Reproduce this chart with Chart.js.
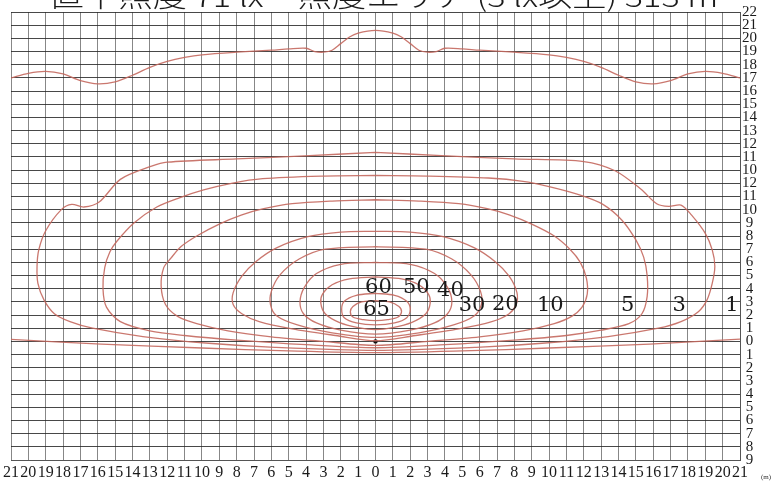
<!DOCTYPE html>
<html><head><meta charset="utf-8">
<script src="https://cdn.jsdelivr.net/npm/chart.js@4"></script>
<style>html,body{margin:0;padding:0;background:#fff;overflow:hidden}#wrap{width:779px;height:482px;position:relative}</style>
</head><body><div id="wrap"><canvas id="c"></canvas></div>
<script>
const titleText = '直下照度 71 lx　照度エリア (3 lx以上) 313 m²';
const unitText = '(m)';
const xTickLabels = ['21','20','19','18','17','16','15','14','13','12','11','10','9','8','7','6','5','4','3','2','1','0','1','2','3','4','5','6','7','8','9','10','11','12','13','14','15','16','17','18','19','20','21'];
const yTickLabels = ['22','21','20','19','18','17','16','15','14','13','12','11','10','12','11','10','9','8','7','6','5','4','3','2','1','0','1','2','3','4','5','6','7','8','9'];

// contour labels
const labelTexts = ['60','50','40','65','30','20','10','5','3','1'];
const labelXs = [0.17, 2.35, 4.32, 0.06, 5.56, 7.48, 10.07, 14.53, 17.5, 20.54];
const labelYs = [4.06, 4.06, 3.87, 2.4, 2.71, 2.81, 2.75, 2.75, 2.75, 2.75];

// isolux contours (x, y in m)
const c65x = [0,0.8,1.35,1.5,1.3,0.7,0,-0.7,-1.3,-1.45,-1.3,-0.8,0];
const c65y = [3.1,3.0,2.65,2.25,1.85,1.65,1.58,1.65,1.85,2.25,2.65,3.0,3.1];
const c60x = [0,1.1,1.8,2.0,1.8,1.1,0,-1.1,-1.8,-1.95,-1.8,-1.1,0];
const c60y = [3.65,3.5,3.05,2.45,1.8,1.4,1.25,1.4,1.8,2.45,3.05,3.5,3.65];
const c50x = [0,1.5,2.5,3.05,3.15,2.9,2.1,1.0,0,-1.0,-2.1,-2.9,-3.15,-3.05,-2.5,-1.5,0];
const c50y = [4.9,4.75,4.3,3.6,2.9,2.1,1.45,1.05,0.9,1.05,1.45,2.1,2.9,3.6,4.3,4.75,4.9];
const c40x = [0,2.0,3.4,4.15,4.4,4.15,3.4,2.0,0,-2.0,-3.4,-4.15,-4.35,-4.1,-3.4,-2.0,0];
const c40y = [6.0,5.85,5.15,4.1,3.0,2.1,1.4,0.85,0.55,0.85,1.4,2.1,3.0,4.1,5.15,5.85,6.0];
const c30x = [0,2.9,4.4,5.5,6.05,6.1,5.7,4.5,2.5,0,-2.5,-4.5,-5.7,-6.05,-6.0,-5.5,-4.4,-2.9,0];
const c30y = [7.2,7.0,6.25,5.05,3.8,2.8,1.95,1.25,0.65,0.3,0.65,1.25,1.95,2.8,3.8,5.05,6.25,7.0,7.2];
const c20x = [0,2,3.9,5.7,6.9,7.7,8.15,8.1,7.7,6.7,4.8,2.3,0,-2.3,-4.8,-6.7,-7.7,-8.2,-8.2,-7.7,-6.9,-5.7,-3.9,-2,0];
const c20y = [8.35,8.3,7.95,7.1,6.05,4.95,3.7,2.8,2.1,1.5,0.95,0.45,0.05,0.45,0.95,1.5,2.1,2.8,3.7,4.95,6.05,7.1,7.95,8.3,8.35];
const c10x = [0,2.5,4.8,6.5,7.7,9.0,10.3,11.2,11.8,12.15,12.2,11.9,11.3,10.3,8.5,6,3,0,-3,-6,-8.5,-10.3,-11.4,-12.1,-12.35,-12.2,-11.8,-11.2,-10.3,-9.0,-7.7,-6.5,-4.8,-2.5,0];
const c10y = [10.75,10.65,10.45,10.05,9.6,8.9,8.0,7.0,6.0,4.8,3.6,2.6,1.9,1.35,0.8,0.35,0.0,-0.3,0.0,0.35,0.8,1.35,1.9,2.8,4.2,5.6,6.3,7.2,8.0,8.9,9.6,10.05,10.45,10.65,10.75];
const c5x = [0,3,6.5,8.5,10,11.8,13.1,14.2,15.0,15.45,15.65,15.65,15.35,14.6,13.0,11,8,4,0,-4,-8,-11,-13.0,-14.7,-15.5,-15.7,-15.6,-15.3,-14.9,-13.9,-12.6,-11.3,-9.9,-8.3,-6.5,-3,0];
const c5y = [12.6,12.55,12.4,12.15,11.75,11.1,10.4,9.2,7.7,6.4,5.0,3.4,2.1,1.35,0.85,0.45,0.1,-0.25,-0.48,-0.25,0.1,0.45,0.8,1.5,2.6,4.0,5.6,6.8,7.6,9.0,10.2,10.9,11.5,12.0,12.35,12.55,12.6];
const c3x = [0,3.8,8,12,13.8,15.3,16.2,16.9,17.6,18.2,19.0,19.4,19.55,19.4,19.1,18.6,17.6,16.3,13.4,9.6,5.8,0,-5.8,-9.6,-13.4,-16.3,-17.6,-18.5,-19.1,-19.45,-19.5,-19.4,-19.0,-18.1,-17.5,-16.8,-15.9,-14.7,-12.9,-12,-8,-3.8,0];
const c3y = [14.35,14.1,13.85,13.65,12.95,11.55,10.45,10.25,10.35,9.6,8.2,6.95,5.7,4.4,3.15,2.25,1.5,1.0,0.37,-0.14,-0.45,-0.68,-0.45,-0.14,0.37,1.0,1.5,2.1,3.15,4.4,5.7,6.95,8.4,10.0,10.4,10.2,10.6,12.3,13.3,13.6,13.85,14.1,14.35];
const c1bx = [-21,-15.8,-10,-5,0,5,10,15.8,21];
const c1by = [0.15,-0.2,-0.5,-0.72,-0.85,-0.72,-0.5,-0.2,0.18];
const c1tx = [-21,-20,-19,-18,-17,-16,-15,-14,-13,-12,-11,-10,-8,-6,-5,-4,-3.5,-3,-2.5,-2,-1.5,-1,0,1,1.5,2,2.5,3,3.5,4,5,6,8,10,11,12,13,14,15,16,17,18,19,20,21];
const c1ty = [20.0,20.35,20.5,20.3,19.8,19.55,19.7,20.2,20.8,21.25,21.55,21.75,21.95,22.1,22.2,22.25,22.0,21.95,22.1,22.6,23.1,23.4,23.6,23.4,23.1,22.6,22.1,21.95,22.0,22.25,22.2,22.1,21.95,21.75,21.55,21.25,20.8,20.2,19.7,19.55,19.8,20.3,20.5,20.35,20.0];
const lampX = [0];
const lampY = [0];

const contours = [
  [c65x,c65y],[c60x,c60y],[c50x,c50y],[c40x,c40y],[c30x,c30y],[c20x,c20y],
  [c10x,c10y],[c5x,c5y],[c3x,c3y],[c1bx,c1by],[c1tx,c1ty]
];
const toPts = (xs, ys) => xs.map((x, i) => ({x: x, y: ys[i]}));
const lineColor = 'rgba(196,104,94,0.9)';
const datasets = contours.map(([xs, ys]) => ({
  data: toPts(xs, ys), showLine: true, borderColor: lineColor, borderWidth: 1.3,
  pointRadius: 0, tension: 0.3, fill: false
}));
datasets.push({data: toPts(lampX, lampY), showLine: false, pointRadius: 2.2,
  pointBackgroundColor: '#111', pointBorderWidth: 0});

const overlay = {
  id: 'overlay',
  afterDatasetsDraw(chart) {
    const ctx = chart.ctx, xs = chart.scales.x, ys = chart.scales.y;
    ctx.save();
    ctx.fillStyle = '#1a1a1a';
    ctx.font = '21px "DejaVu Serif"';
    ctx.textAlign = 'center';
    ctx.textBaseline = 'middle';
    labelTexts.forEach((t, i) => {
      ctx.fillText(t, xs.getPixelForValue(labelXs[i]), ys.getPixelForValue(labelYs[i]));
    });
    ctx.restore();
  },
  afterDraw(chart) {
    const ctx = chart.ctx;
    ctx.save();
    ctx.fillStyle = '#1a1a1a';
    ctx.font = '300 28px "Noto Sans CJK JP"';
    ctx.textBaseline = 'alphabetic';
    const w = ctx.measureText(titleText).width;
    ctx.translate(50, 6.5);
    ctx.scale(682 / w, 1);
    ctx.fillText(titleText, 0, 0);
    ctx.restore();
    ctx.save();
    ctx.fillStyle = '#333';
    ctx.font = '7px "Liberation Serif"';
    ctx.textAlign = 'center';
    ctx.textBaseline = 'middle';
    ctx.fillText(unitText, 766, 477);
    ctx.restore();
  }
};

new Chart(document.getElementById('c'), {
  type: 'scatter',
  data: {datasets},
  options: {
    responsive: true, maintainAspectRatio: false, animation: false,
    layout: {padding: {left: 10, top: 12, right: 6, bottom: 0}},
    plugins: {legend: {display: false}, tooltip: {enabled: false}, title: {display: false}},
    scales: {
      x: {
        type: 'linear', min: -21, max: 21,
        grid: {color: 'rgba(95,95,95,0.75)', lineWidth: 1, drawTicks: false},
        border: {color: '#555', width: 1},
        ticks: {stepSize: 1, autoSkip: false, maxRotation: 0, minRotation: 0, padding: 3,
          color: '#1a1a1a', font: {family: '"Liberation Serif"', size: 16},
          callback: (v) => xTickLabels[Math.round(v) + 21]},
        afterFit: (s) => { s.height = 22; }
      },
      y: {
        type: 'linear', position: 'right', min: -9, max: 25,
        grid: {color: 'rgba(40,40,40,0.85)', lineWidth: 1, drawTicks: false},
        border: {color: '#555', width: 1},
        ticks: {stepSize: 1, autoSkip: false, padding: 2, crossAlign: 'center',
          color: '#1a1a1a', font: {family: '"Liberation Serif"', size: 15},
          callback: (v) => yTickLabels[25 - Math.round(v)]},
        afterFit: (s) => { s.width = 33; }
      }
    }
  },
  plugins: [overlay]
});
</script></body></html>
